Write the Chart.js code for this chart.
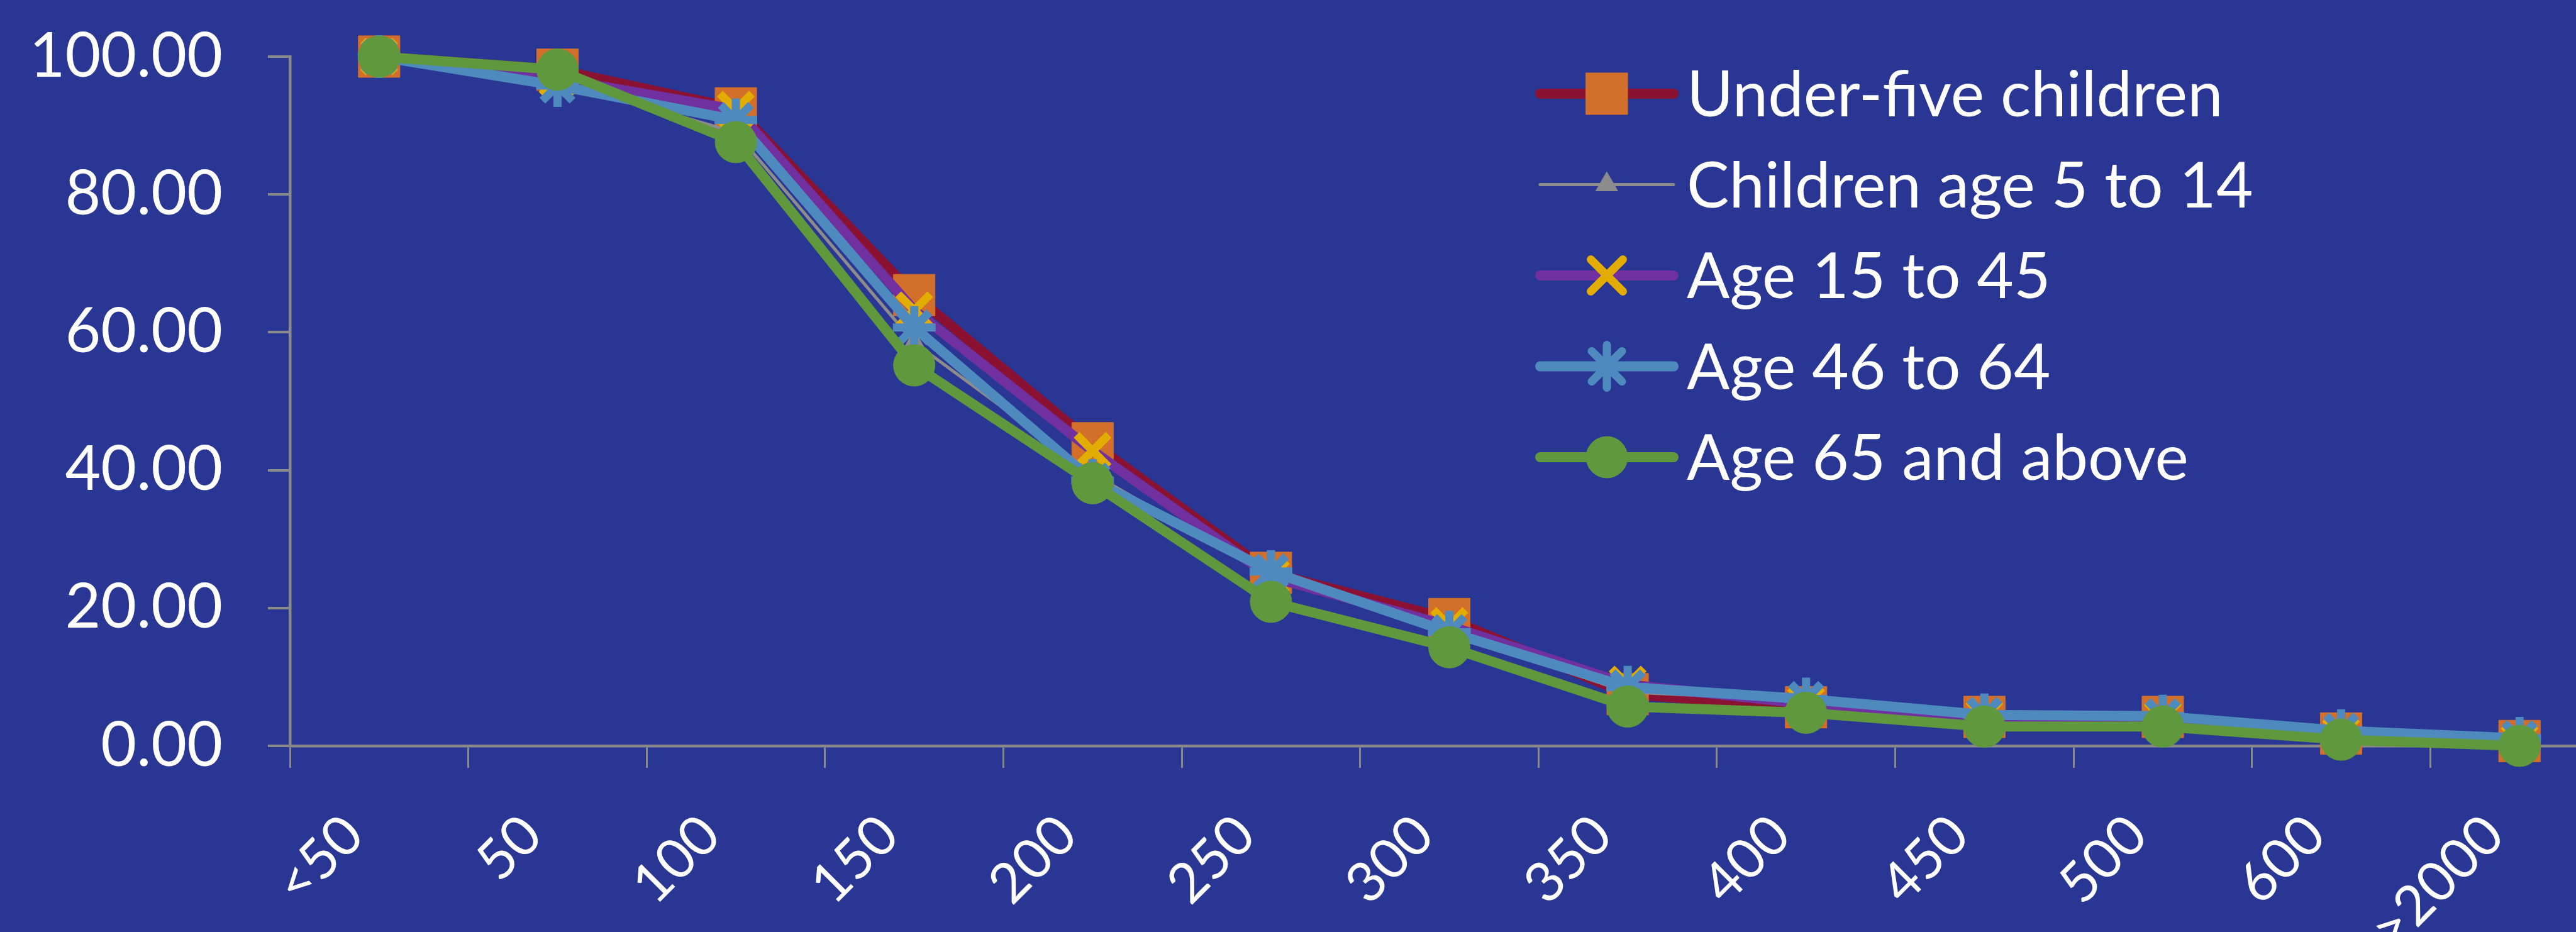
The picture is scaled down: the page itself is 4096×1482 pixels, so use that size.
<!DOCTYPE html>
<html>
<head>
<meta charset="utf-8">
<title>Age groups by threshold</title>
<script src="https://cdn.jsdelivr.net/npm/chart.js@4.4.1/dist/chart.umd.min.js"></script>
<style>
  html, body { margin: 0; padding: 0; background: #293693; overflow: hidden; }
  canvas { display: block; }
</style>
</head>
<body>
<canvas id="myChart" width="4300" height="1482"></canvas>
<script>
// categories on the x axis
var categories = ['<50', '50', '100', '150', '200', '250', '300', '350', '400', '450', '500', '600', '>2000'];

// series values (percent)
var underFive   = [100, 98.1, 92.5, 65.4, 43.9, 25.1, 18.4, 7.5, 5.6, 4.2, 4.2, 1.8, 0.7];
var age5to14    = [100, 96.5, 89.0, 58.5, 39.5, 24.5, 16.5, 7.8, 6.6, 4.0, 4.0, 1.5, 0.5];
var age15to45   = [100, 96.8, 92.3, 63.2, 42.8, 24.5, 17.4, 8.9, 6.1, 4.2, 4.0, 1.6, 0.6];
var age46to64   = [100, 95.8, 90.8, 60.7, 38.5, 25.3, 16.5, 8.5, 6.8, 4.5, 4.3, 2.2, 1.1];
var age65plus   = [100, 98.1, 87.6, 55.2, 38.1, 20.9, 14.3, 5.7, 4.8, 2.8, 2.8, 0.9, 0.0];

// y axis tick values
var yTicks = [0, 20, 40, 60, 80, 100];

var axisGrey = '#8a8a8a';
var fontFamily = 'Lato, "Open Sans", sans-serif';

// legend drawn inside the plot, top right
var legendPlugin = {
    id: 'insideLegend',
    afterDraw: function (chart) {
        var ctx = chart.ctx;
        var x0 = 2449, lineLen = 212, textX = 2682, top = 149, step = 144.5, fs = 101;
        chart.data.datasets.forEach(function (ds, i) {
            var y = top + i * step;
            ctx.save();
            ctx.lineCap = 'round';
            ctx.strokeStyle = ds.borderColor;
            ctx.lineWidth = ds.borderWidth;
            ctx.beginPath();
            ctx.moveTo(x0, y);
            ctx.lineTo(x0 + lineLen, y);
            ctx.stroke();

            ctx.fillStyle = ds.pointBackgroundColor;
            ctx.strokeStyle = ds.pointBorderColor;
            ctx.lineWidth = ds.pointBorderWidth;
            Chart.helpers.drawPoint(ctx, {
                pointStyle: ds.pointStyle,
                radius: ds.pointRadius,
                rotation: 0,
                borderWidth: ds.pointBorderWidth
            }, x0 + lineLen / 2, y);

            ctx.fillStyle = '#ffffff';
            ctx.font = fs + 'px ' + fontFamily;
            ctx.textAlign = 'left';
            ctx.textBaseline = 'alphabetic';
            ctx.fillText(ds.label, textX, y + fs * 0.36);
            ctx.restore();
        });
    }
};

var ctx = document.getElementById('myChart').getContext('2d');
var chart = new Chart(ctx, {
    type: 'line',
    data: {
        labels: categories,
        datasets: [{
            label: 'Under-five children',
            data: underFive,
            borderColor: '#8a1131',
            borderWidth: 16,
            pointStyle: 'rect',
            pointRadius: 46.7,
            pointBackgroundColor: '#d26f2a',
            pointBorderColor: '#d26f2a',
            pointBorderWidth: 1,
            order: 5
        }, {
            label: 'Children age 5 to 14',
            data: age5to14,
            borderColor: '#8c8c8c',
            borderWidth: 5,
            pointStyle: 'triangle',
            pointRadius: 20,
            pointBackgroundColor: '#8c8c8c',
            pointBorderColor: '#8c8c8c',
            pointBorderWidth: 1,
            order: 4
        }, {
            label: 'Age 15 to 45',
            data: age15to45,
            borderColor: '#7030a0',
            borderWidth: 16,
            pointStyle: 'crossRot',
            pointRadius: 36,
            pointBackgroundColor: '#e2ac00',
            pointBorderColor: '#e2ac00',
            pointBorderWidth: 13,
            order: 3
        }, {
            label: 'Age 46 to 64',
            data: age46to64,
            borderColor: '#4f8abf',
            borderWidth: 16,
            pointStyle: 'star',
            pointRadius: 34,
            pointBackgroundColor: '#4f8abf',
            pointBorderColor: '#4f8abf',
            pointBorderWidth: 13,
            order: 2
        }, {
            label: 'Age 65 and above',
            data: age65plus,
            borderColor: '#5f983d',
            borderWidth: 16,
            pointStyle: 'circle',
            pointRadius: 33,
            pointBackgroundColor: '#5f983d',
            pointBorderColor: '#5f983d',
            pointBorderWidth: 1,
            order: 1
        }]
    },
    options: {
        responsive: false,
        animation: false,
        devicePixelRatio: 1,
        events: [],
        layout: { autoPadding: false, padding: { top: 90, right: 152, left: 0, bottom: 0 } },
        elements: {
            line: { tension: 0, borderJoinStyle: 'round', borderCapStyle: 'round' }
        },
        datasets: { line: { clip: false } },
        plugins: {
            legend: { display: false },
            tooltip: { enabled: false }
        },
        scales: {
            x: {
                offset: true,
                afterFit: function (s) { s.height = 296; },
                grid: {
                    offset: true,
                    drawOnChartArea: false,
                    drawTicks: true,
                    tickLength: 35,
                    color: axisGrey,
                    lineWidth: 3
                },
                border: { display: true, color: axisGrey, width: 4.5 },
                ticks: {
                    autoSkip: false,
                    minRotation: 45,
                    maxRotation: 45,
                    padding: 55,
                    labelOffset: -40,
                    color: '#ffffff',
                    font: { family: fontFamily, size: 88 }
                }
            },
            y: {
                min: 0,
                max: 100,
                afterFit: function (s) {
                    s.width = 461;
                    s.paddingTop = 0;
                    s.paddingBottom = 0;
                },
                afterBuildTicks: function (s) {
                    s.ticks = yTicks.map(function (v) { return { value: v }; });
                },
                grid: {
                    drawOnChartArea: false,
                    drawTicks: true,
                    tickLength: 35,
                    color: axisGrey,
                    lineWidth: 4
                },
                border: { display: true, color: axisGrey, width: 4.5 },
                ticks: {
                    padding: 72,
                    color: '#ffffff',
                    font: { family: fontFamily, size: 98 },
                    callback: function (v) { return Number(v).toFixed(2); }
                }
            }
        }
    },
    plugins: [legendPlugin]
});
</script>
</body>
</html>
